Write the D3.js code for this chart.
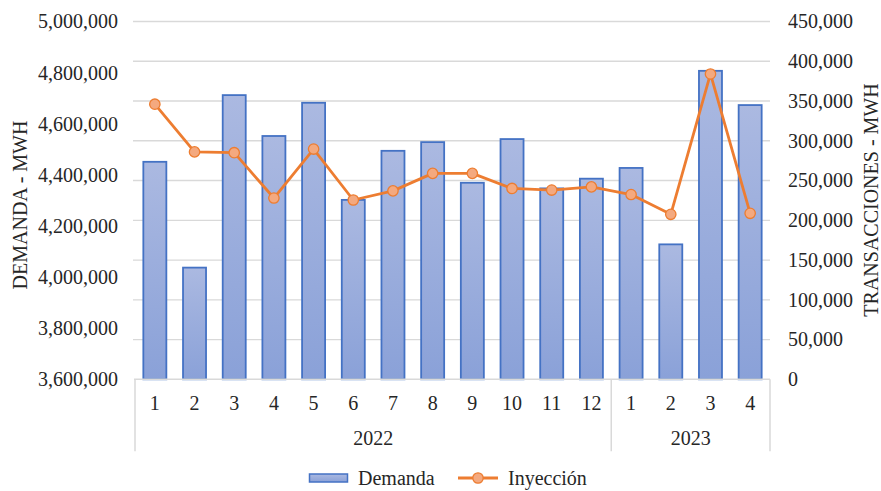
<!DOCTYPE html>
<html>
<head>
<meta charset="utf-8">
<script src="https://cdn.jsdelivr.net/npm/d3@7"></script>
<style>
  body { margin: 0; background: #fff; }
</style>
</head>
<body>
<div id="chart"></div>
<script>
// Data
var months = ["1", "2", "3", "4", "5", "6", "7", "8", "9", "10", "11", "12", "1", "2", "3", "4"];
var years = ["2022", "2022", "2022", "2022", "2022", "2022", "2022", "2022", "2022", "2022", "2022", "2022", "2023", "2023", "2023", "2023"];
var demanda = [4451000, 4037000, 4712000, 4552000, 4682000, 4302000, 4494000, 4528000, 4369000, 4540000, 4347000, 4385000, 4427000, 4128000, 4807000, 4673000];
var inyeccion = [346000, 286000, 285000, 228000, 289600, 225500, 237000, 259000, 259000, 240000, 238000, 242000, 232400, 207500, 384000, 208800];
var leftTicks = [3600000, 3800000, 4000000, 4200000, 4400000, 4600000, 4800000, 5000000];
var rightTicks = [0, 50000, 100000, 150000, 200000, 250000, 300000, 350000, 400000, 450000];

var FONT = "Liberation Serif, DejaVu Serif, Noto Serif, Tinos, serif";
var width = 881, height = 491;
var margin = {top: 21.5, right: 111, bottom: 111.7, left: 135};
var plotW = width - margin.left - margin.right;
var plotH = height - margin.top - margin.bottom;

var svg = d3.select("#chart")
    .append("svg")
    .attr("width", width)
    .attr("height", height)
    .style("font-family", FONT);

// gradient for the bars
var defs = svg.append("defs");
var grad = defs.append("linearGradient")
    .attr("id", "barGrad")
    .attr("x1", 0).attr("y1", 0).attr("x2", 0).attr("y2", 1);
grad.append("stop").attr("offset", "0%").attr("stop-color", "#abb9e1");
grad.append("stop").attr("offset", "100%").attr("stop-color", "#8aa1d8");

var g = svg.append("g")
    .attr("transform", "translate(" + margin.left + "," + margin.top + ")");

var idx = d3.range(months.length);
var x = d3.scaleBand()
    .domain(idx)
    .range([0, plotW])
    .paddingInner(0.42)
    .paddingOuter(0.21);

var yL = d3.scaleLinear().domain([3600000, 5000000]).range([plotH, 0]);
var yR = d3.scaleLinear().domain([0, 450000]).range([plotH, 0]);
var fmt = d3.format(",");

function styleText(sel) {
    sel.attr("font-family", FONT)
        .attr("font-size", 20)
        .attr("fill", "#262626");
}

// gridlines (follow the right axis)
g.append("g")
    .selectAll("line")
    .data(rightTicks.slice(1))
    .enter()
    .append("line")
    .attr("x1", -2)
    .attr("x2", plotW)
    .attr("y1", function(d) { return yR(d); })
    .attr("y2", function(d) { return yR(d); })
    .attr("stroke", "#d9d9d9")
    .attr("stroke-width", 1.3);

// left axis
var leftAxis = g.append("g")
    .call(d3.axisLeft(yL).tickValues(leftTicks).tickFormat(fmt).tickSize(0).tickPadding(17));
leftAxis.attr("font-family", FONT).attr("font-size", 20);
leftAxis.select(".domain").remove();
leftAxis.selectAll("text").call(styleText);

// right axis
var rightAxis = g.append("g")
    .attr("transform", "translate(" + plotW + ",0)")
    .call(d3.axisRight(yR).tickValues(rightTicks).tickFormat(fmt).tickSize(0).tickPadding(18));
rightAxis.attr("font-family", FONT).attr("font-size", 20);
rightAxis.select(".domain").remove();
rightAxis.selectAll("text").call(styleText);

// bars
g.selectAll(".bar")
    .data(demanda)
    .enter()
    .append("rect")
    .attr("class", "bar")
    .attr("x", function(d, i) { return x(i); })
    .attr("y", function(d) { return yL(d); })
    .attr("width", x.bandwidth())
    .attr("height", function(d) { return plotH - yL(d); })
    .attr("fill", "url(#barGrad)")
    .attr("stroke", "#4472c4")
    .attr("stroke-width", 1.8);

// category axis: line, group separators, labels
var axisG = g.append("g").attr("transform", "translate(0," + plotH + ")");
axisG.append("line")
    .attr("x1", -1).attr("x2", plotW)
    .attr("y1", 0).attr("y2", 0)
    .attr("stroke", "#d9d9d9").attr("stroke-width", 1.5);

var groups = [];
years.forEach(function(yr, i) {
    if (!groups.length || groups[groups.length - 1].year !== yr) groups.push({year: yr, first: i, last: i});
    else groups[groups.length - 1].last = i;
});
var sepX = function(i) { return x(i) - x.step() * x.paddingInner() / 2; };
var bounds = groups.map(function(gr) { return gr.first; }).concat([months.length]);
axisG.selectAll(".sep")
    .data(bounds)
    .enter()
    .append("line")
    .attr("x1", function(d) { return d === months.length ? plotW : Math.max(-1, sepX(d)); })
    .attr("x2", function(d) { return d === months.length ? plotW : Math.max(-1, sepX(d)); })
    .attr("y1", 0).attr("y2", 72)
    .attr("stroke", "#d9d9d9").attr("stroke-width", 1.5);

axisG.selectAll(".month")
    .data(months)
    .enter()
    .append("text")
    .attr("x", function(d, i) { return x(i) + x.bandwidth() / 2; })
    .attr("y", 24)
    .attr("dy", "0.35em")
    .attr("text-anchor", "middle")
    .call(styleText)
    .text(function(d) { return d; });

axisG.selectAll(".year")
    .data(groups)
    .enter()
    .append("text")
    .attr("x", function(d) {
        var a = d.first === 0 ? 0 : sepX(d.first);
        var b = d.last === months.length - 1 ? plotW : sepX(d.last + 1);
        return (a + b) / 2;
    })
    .attr("y", 59)
    .attr("dy", "0.35em")
    .attr("text-anchor", "middle")
    .call(styleText)
    .text(function(d) { return d.year; });

// line series
var line = d3.line()
    .x(function(d, i) { return x(i) + x.bandwidth() / 2; })
    .y(function(d) { return yR(d); });
g.append("path")
    .datum(inyeccion)
    .attr("fill", "none")
    .attr("stroke", "#ed7d31")
    .attr("stroke-width", 2.8)
    .attr("stroke-linejoin", "round")
    .attr("d", line);
g.selectAll(".dot")
    .data(inyeccion)
    .enter()
    .append("circle")
    .attr("cx", function(d, i) { return x(i) + x.bandwidth() / 2; })
    .attr("cy", function(d) { return yR(d); })
    .attr("r", 5.2)
    .attr("fill", "#f4a97f")
    .attr("stroke", "#ed7d31")
    .attr("stroke-width", 1.3);

// axis titles
svg.append("text")
    .attr("transform", "translate(19.5,205) rotate(-90)")
    .attr("dy", "0.35em")
    .attr("text-anchor", "middle")
    .call(styleText)
    .text("DEMANDA - MWH");
svg.append("text")
    .attr("transform", "translate(871,200) rotate(-90)")
    .attr("dy", "0.35em")
    .attr("text-anchor", "middle")
    .call(styleText)
    .text("TRANSACCIONES - MWH");

// legend
var legend = svg.append("g").attr("transform", "translate(0,478)");
legend.append("rect")
    .attr("x", 309.5).attr("y", -4).attr("width", 38).attr("height", 8)
    .attr("fill", "url(#barGrad)")
    .attr("stroke", "#4472c4").attr("stroke-width", 1.5);
legend.append("text")
    .attr("x", 358).attr("y", 0).attr("dy", "0.35em")
    .call(styleText)
    .text("Demanda");
legend.append("line")
    .attr("x1", 458).attr("x2", 498).attr("y1", 0).attr("y2", 0)
    .attr("stroke", "#ed7d31").attr("stroke-width", 2.8);
legend.append("circle")
    .attr("cx", 478).attr("cy", 0).attr("r", 5.2)
    .attr("fill", "#f4a97f").attr("stroke", "#ed7d31").attr("stroke-width", 1.3);
legend.append("text")
    .attr("x", 508).attr("y", 0).attr("dy", "0.35em")
    .call(styleText)
    .text("Inyección");
</script>
</body>
</html>
